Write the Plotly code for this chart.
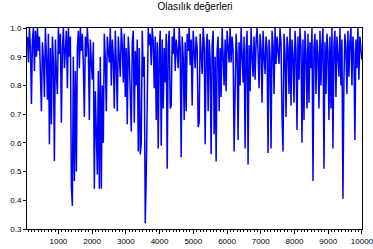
import plotly.graph_objects as go

obs_start = 83
obs_step = 29.6
prob = [
    0.97, 0.88, 1.0, 0.93, 0.735, 0.96, 1.0, 0.85, 0.99, 0.9,
    1.0, 0.92, 0.97, 0.86, 0.71, 0.95, 0.89, 0.76, 1.0, 0.9,
    0.75, 0.98, 0.595, 0.93, 0.665, 0.97, 0.88, 0.537, 0.96, 0.84,
    0.77, 1.0, 0.91, 0.98, 0.67, 0.93, 1.0, 0.86, 0.95, 0.99,
    0.79, 1.0, 0.9, 0.97, 0.45, 0.38, 0.9, 0.467, 0.85, 0.5,
    0.93, 0.99, 0.86, 1.0, 0.92, 0.98, 0.87, 0.69, 0.97, 0.9,
    1.0, 0.93, 0.68, 0.96, 0.88, 0.82, 0.95, 0.44, 0.78, 0.6,
    0.49, 0.85, 0.44, 0.9, 0.44, 0.8, 0.6, 0.98, 0.89, 0.71,
    0.97, 0.92, 0.88, 1.0, 0.8, 0.96, 0.9, 0.72, 0.99, 0.87,
    0.71, 0.97, 0.91, 0.83, 1.0, 0.94, 0.81, 0.98, 0.76, 0.93,
    0.665, 0.97, 0.9, 0.76, 0.64, 0.95, 0.99, 0.67, 0.92, 0.8,
    0.96, 0.57, 0.93, 0.56, 0.6, 0.99, 0.83, 0.9, 0.32, 0.49,
    0.87, 1.0, 0.94, 0.98, 0.87, 1.0, 0.95, 0.79, 0.97, 0.68,
    0.95, 0.58, 0.92, 0.99, 0.59, 0.96, 0.72, 0.93, 0.81, 0.98,
    0.51, 0.94, 0.99, 0.72, 0.73, 0.97, 0.91, 1.0, 0.85, 0.96,
    0.92, 0.86, 1.0, 0.93, 0.55, 0.97, 0.9, 0.68, 0.95, 0.71,
    0.98, 0.92, 1.0, 0.87, 0.96, 0.73, 0.99, 0.9, 0.86, 0.97,
    0.93, 0.655, 0.67, 0.98, 0.91, 0.84, 1.0, 0.95, 0.595, 0.92,
    0.98, 0.71, 0.96, 0.89, 0.56, 0.94, 0.99, 0.63, 0.9, 0.535,
    0.92, 0.97, 0.71, 0.93, 0.76, 1.0, 0.9, 0.8, 0.96, 0.78,
    0.99, 0.94, 0.88, 1.0, 0.88, 0.97, 0.92, 0.57, 0.73, 0.98,
    0.91, 0.61, 0.95, 0.8, 1.0, 0.93, 0.81, 0.97, 0.58, 0.92,
    0.99, 0.525, 0.94, 0.78, 1.0, 0.9, 0.83, 0.97, 0.82, 0.95,
    1.0, 0.91, 0.79, 0.98, 0.93, 0.74, 0.99, 0.9, 0.84, 0.97,
    0.93, 0.565, 0.96, 0.9, 0.58, 0.99, 0.94, 0.77, 1.0, 0.875,
    0.97, 0.92, 0.875, 1.0, 0.95, 0.69, 0.57, 0.98, 0.91, 0.69,
    0.97, 0.93, 0.77, 1.0, 0.73, 0.96, 0.9, 0.74, 0.99, 0.92,
    0.645, 0.97, 0.82, 1.0, 0.93, 0.6, 0.96, 0.68, 0.99, 0.91,
    0.72, 0.98, 0.74, 0.95, 0.86, 1.0, 0.467, 0.93, 0.98, 0.77,
    0.96, 0.91, 0.72, 0.99, 0.8, 0.94, 1.0, 0.51, 0.95, 0.77,
    0.98, 0.92, 0.68, 0.97, 0.72, 1.0, 0.58, 0.94, 0.99, 0.76,
    0.97, 0.9, 0.83, 1.0, 0.8, 0.96, 0.405, 0.82, 0.98, 0.93,
    0.77, 0.99, 0.83, 0.95, 1.0, 0.8, 0.97, 0.91, 0.61, 0.96,
    0.86, 1.0, 0.82, 0.97, 0.93, 0.89,
]
obs = [obs_start + obs_step * i for i in range(len(prob))]

x_ticks = [1000, 2000, 3000, 4000, 5000, 6000, 7000, 8000, 9000, 10000]
y_ticks = [0.3, 0.4, 0.5, 0.6, 0.7, 0.8, 0.9, 1.0]

fig = go.Figure()
fig.add_trace(go.Scatter(
    x=obs, y=prob, mode="lines",
    line=dict(color="#0000FF", width=1.5),
    hoverinfo="skip", showlegend=False,
))

fig.update_layout(
    width=373, height=249,
    margin=dict(l=27, r=11, t=28, b=20, autoexpand=False),
    paper_bgcolor="white", plot_bgcolor="white",
    font=dict(family="Liberation Sans, Arial, sans-serif", size=8, color="black"),
    title=dict(text="Olasılık değerleri", x=0.523, xanchor="center",
               y=0.972, yanchor="middle",
               font=dict(size=10, color="black")),
    xaxis=dict(
        range=[70, 10002], tickvals=x_ticks,
        ticktext=[str(v) for v in x_ticks],
        ticklabeloverflow="allow",
        showgrid=False, zeroline=False, automargin=False,
        showline=True, linecolor="black", linewidth=1, mirror=True,
        ticks="outside", ticklen=4, tickcolor="black", tickwidth=1,
        minor=dict(dtick=100, tick0=0, ticks="outside", ticklen=2,
                   tickcolor="black", showgrid=False),
        tickfont=dict(size=8),
    ),
    yaxis=dict(
        range=[0.3, 1.0], tickvals=y_ticks,
        ticktext=["%.1f" % v for v in y_ticks],
        ticklabeloverflow="allow",
        showgrid=False, zeroline=False, automargin=False,
        showline=True, linecolor="black", linewidth=1, mirror=True,
        ticks="outside", ticklen=3, tickcolor="black", tickwidth=1,
        tickfont=dict(size=8),
    ),
)

fig.write_html(
    "out.html",
    config={"displayModeBar": False},
    post_script="document.body.style.margin='0';document.body.style.overflow='hidden';",
)
